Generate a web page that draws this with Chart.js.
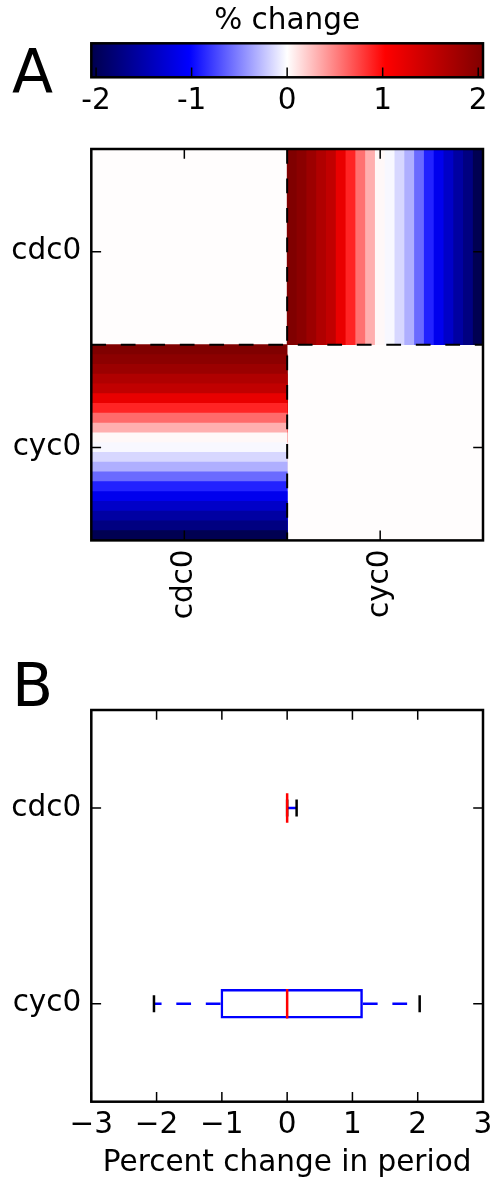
<!DOCTYPE html>
<html><head><meta charset="utf-8">
<script src="https://cdn.jsdelivr.net/npm/chart.js@4.4.1/dist/chart.umd.min.js"></script>
<style>
html,body{margin:0;padding:0;background:#fff;}
#wrap{position:relative;width:491px;height:1185px;background:#fff;overflow:hidden;}
canvas{position:absolute;left:0;}
.lbl{position:absolute;font-family:'DejaVu Sans';font-size:60px;line-height:60px;color:#000;}
</style></head><body>
<div id="wrap">
<canvas id="cb" width="491" height="130" style="top:0px"></canvas>
<canvas id="hm" width="491" height="510" style="top:130px"></canvas>
<canvas id="bx" width="491" height="535" style="top:650px"></canvas>
<div class="lbl" style="left:12px;top:41px">A</div>
<div class="lbl" style="left:12px;top:655px">B</div>
</div>
<script>
// ---------------- data ----------------
const heatCats = ['cdc0', 'cyc0'];
// tick positions (in block units)
const heatXTickPos = [0.475, 1.475];
const heatYTickPos = [0.525, 1.525];
const diagValues = [0.01, 0.01];
// row cdc0 x column cyc0, stripes left -> right
const stripesCdcCyc = [2.05, 1.96, 1.82, 1.66, 1.52, 1.20, 0.88, 0.57, 0.32, 0.03,
                       -0.03, -0.16, -0.32, -0.60, -0.89, -1.12, -1.34, -1.56, -1.75, -2.02];
// row cyc0 x column cdc0, stripes top -> bottom
const stripesCycCdc = [2.05, 1.95, 1.83, 1.66, 1.52, 1.20, 0.88, 0.60, 0.32, 0.03,
                       -0.03, -0.16, -0.32, -0.60, -0.89, -1.12, -1.34, -1.56, -1.75, -2.02];
const cbTicks = [-2, -1, 0, 1, 2];
const VMAX = 2.05;

const boxCats = ['cdc0', 'cyc0'];
const whisLo = [0.0, -2.04];
const q1 = [0.0, -1.02];
const med = [0.0, 0.0];
const q3 = [0.0, 1.16];
const whisHi = [0.145, 2.03];
const boxTicks = [-3, -2, -1, 0, 1, 2, 3];

// ---------------- styling helpers ----------------
const FS = 29.5;
Chart.defaults.font.family = 'DejaVu Sans';
Chart.defaults.font.size = FS;
Chart.defaults.color = '#000';

const SEISMIC = [[0, 0, 0.3], [0, 0, 1], [1, 1, 1], [1, 0, 0], [0.5, 0, 0]];
function rgb(c) { return 'rgb(' + c.map(x => Math.round(x * 255)).join(',') + ')'; }
function seismic(v) {
  const t = (Math.max(-VMAX, Math.min(VMAX, v)) + VMAX) / (2 * VMAX);
  const s = t * (SEISMIC.length - 1);
  const i = Math.min(SEISMIC.length - 2, Math.floor(s));
  const f = s - i;
  return rgb(SEISMIC[i].map((a, k) => a + (SEISMIC[i + 1][k] - a) * f));
}

const frameTicks = {
  id: 'frameTicks',
  afterDatasetsDraw(chart, args, o) {
    const {ctx, chartArea: a} = chart;
    const len = o.tickLength || 9.8;
    ctx.save();
    ctx.strokeStyle = '#000';
    ctx.lineWidth = o.tickWidth || 1.5;
    ctx.beginPath();
    (o.sides || []).forEach(side => {
      const horiz = side === 'top' || side === 'bottom';
      const sc = chart.scales[horiz ? 'x' : 'y'];
      sc.ticks.forEach(t => {
        const p = sc.getPixelForValue(t.value);
        if (side === 'bottom') { ctx.moveTo(p, a.bottom); ctx.lineTo(p, a.bottom - len); }
        if (side === 'top') { ctx.moveTo(p, a.top); ctx.lineTo(p, a.top + len); }
        if (side === 'left') { ctx.moveTo(a.left, p); ctx.lineTo(a.left + len, p); }
        if (side === 'right') { ctx.moveTo(a.right, p); ctx.lineTo(a.right - len, p); }
      });
    });
    ctx.stroke();
    ctx.lineWidth = o.frameWidth || 2.5;
    ctx.strokeRect(a.left, a.top, a.right - a.left, a.bottom - a.top);
    ctx.restore();
  }
};

const noGrid = {display: false, drawTicks: false};
const noBorder = {display: false};
const common = {responsive: false, animation: false, events: []};
function fixH(h) { return s => { s.height = h; s.paddingLeft = 0; s.paddingRight = 0; s.paddingTop = 0; s.paddingBottom = 0; }; }
function fixW(w) { return s => { s.width = w; s.paddingLeft = 0; s.paddingRight = 0; s.paddingTop = 0; s.paddingBottom = 0; }; }

// ---------------- colorbar ----------------
new Chart(document.getElementById('cb'), {
  type: 'bar',
  data: {
    labels: ['cb'],
    datasets: [{
      data: [[-VMAX, VMAX]],
      backgroundColor: (c) => {
        const a = c.chart.chartArea;
        if (!a) return '#fff';
        const g = c.chart.ctx.createLinearGradient(a.left, 0, a.right, 0);
        SEISMIC.forEach((col, k) => g.addColorStop(k / (SEISMIC.length - 1), rgb(col)));
        return g;
      },
      borderWidth: 0, barPercentage: 1, categoryPercentage: 1
    }]
  },
  options: {
    ...common,
    indexAxis: 'y',
    layout: {autoPadding: false, padding: {left: 91.3, right: 8, top: 0, bottom: 0}},
    plugins: {
      legend: {display: false}, tooltip: {enabled: false},
      title: {display: true, text: '% change', fullSize: false, color: '#000',
              font: {size: FS, weight: 'normal'}, padding: {top: 4, bottom: 3.9}},
      frameTicks: {sides: ['bottom']}
    },
    scales: {
      x: {type: 'linear', min: -VMAX, max: VMAX, offset: false,
          afterBuildTicks: s => { s.ticks = cbTicks.map(v => ({value: v})); },
          ticks: {callback: v => String(v), padding: 6, autoSkip: false, maxRotation: 0},
          grid: noGrid, border: noBorder, afterFit: fixH(130 - 77.3)},
      y: {type: 'category', display: false}
    }
  },
  plugins: [frameTicks]
});

// ---------------- heatmap ----------------
function barDs(axis, data, color, order) {
  return {type: 'bar', indexAxis: axis, data, backgroundColor: color, borderWidth: 0,
          grouped: false, barPercentage: 1, categoryPercentage: 1, order};
}
const hmDatasets = [];
heatCats.forEach((c, i) => hmDatasets.push(barDs('y', [{y: i + 0.5, x: [i, i + 1]}], seismic(diagValues[i]), 100)));
{
  const row = heatCats.indexOf('cdc0'), col = heatCats.indexOf('cyc0'), n = stripesCdcCyc.length;
  stripesCdcCyc.forEach((v, k) => hmDatasets.push(
    barDs('y', [{y: row + 0.5, x: [col + k / n, col + 1]}], seismic(v), 50 - k)));
}
{
  const row = heatCats.indexOf('cyc0'), col = heatCats.indexOf('cdc0'), n = stripesCycCdc.length;
  stripesCycCdc.forEach((v, k) => hmDatasets.push(Object.assign(
    barDs('x', [{x: col + 0.5, y: [row + k / n, row + 1]}], seismic(v), 50 - k),
    {xAxisID: 'xv', yAxisID: 'yv'})));
}
for (let k = 1; k < heatCats.length; k++) {
  hmDatasets.push({type: 'line', data: [{x: 0, y: k}, {x: heatCats.length, y: k}], borderColor: '#000',
                   borderWidth: 2, borderDash: [14.75, 14.75], pointRadius: 0, order: -100});
  hmDatasets.push({type: 'line', data: [{x: k, y: 0}, {x: k, y: heatCats.length}], borderColor: '#000',
                   borderWidth: 2, borderDash: [14.75, 14.75], pointRadius: 0, order: -100});
}
const centerTicks = s => { s.ticks = heatCats.map((c, i) => ({value: i + 0.5})); };
new Chart(document.getElementById('hm'), {
  type: 'bar',
  data: {datasets: hmDatasets},
  options: {
    ...common,
    layout: {autoPadding: false, padding: {left: 0, right: 8, top: 19, bottom: 0}},
    plugins: {legend: {display: false}, tooltip: {enabled: false},
              frameTicks: {sides: ['bottom', 'top', 'left', 'right']}},
    scales: {
      x: {type: 'linear', position: 'bottom', min: 0, max: heatCats.length, offset: false,
          afterBuildTicks: s => { s.ticks = heatXTickPos.map(v => ({value: v})); },
          ticks: {callback: (v, i) => heatCats[i], minRotation: 90, maxRotation: 90, autoSkip: false, padding: 9},
          grid: noGrid, border: noBorder, afterFit: fixH(510 - 410.4)},
      y: {type: 'linear', position: 'left', min: 0, max: heatCats.length, reverse: true, offset: false,
          afterBuildTicks: s => { s.ticks = heatYTickPos.map(v => ({value: v})); },
          ticks: {callback: (v, i) => heatCats[i], autoSkip: false, padding: 10},
          grid: noGrid, border: noBorder, afterFit: fixW(91.3)},
      xv: {type: 'linear', display: false, position: 'bottom', min: 0, max: heatCats.length, offset: false, afterBuildTicks: centerTicks},
      yv: {type: 'linear', display: false, position: 'left', min: 0, max: heatCats.length, reverse: true, offset: false, afterBuildTicks: centerTicks}
    }
  },
  plugins: [frameTicks]
});

// ---------------- boxplot ----------------
const BLUE = '#0000ff', RED = '#ff0000';
const bxDatasets = [];
boxCats.forEach((c, i) => {
  bxDatasets.push({type: 'line', data: [{x: q1[i], y: i + 1}, {x: whisLo[i], y: i + 1}], borderColor: BLUE,
                   borderWidth: 2.5, borderDash: [14.75, 14.75], pointRadius: 0, order: 5});
  bxDatasets.push({type: 'line', data: [{x: q3[i], y: i + 1}, {x: whisHi[i], y: i + 1}], borderColor: BLUE,
                   borderWidth: 2.5, borderDash: [14.75, 14.75], pointRadius: 0, order: 5});
});
bxDatasets.push({type: 'bar', indexAxis: 'y', data: boxCats.map((c, i) => ({y: i + 1, x: [q1[i], q3[i]]})),
                 backgroundColor: 'rgba(0,0,0,0)', borderColor: BLUE, borderWidth: 2.5, borderSkipped: false,
                 barPercentage: 0.15, categoryPercentage: 1, order: 4});
bxDatasets.push({type: 'scatter',
                 data: boxCats.map((c, i) => ({x: whisLo[i], y: i + 1})).concat(boxCats.map((c, i) => ({x: whisHi[i], y: i + 1}))),
                 pointStyle: 'line', pointRotation: 90, pointRadius: 8.5, pointBorderColor: '#000',
                 pointBorderWidth: 2.5, pointBackgroundColor: '#000', order: 3});
bxDatasets.push({type: 'scatter', data: boxCats.map((c, i) => ({x: med[i], y: i + 1})),
                 pointStyle: 'line', pointRotation: 90, pointRadius: 14.7, pointBorderColor: RED,
                 pointBorderWidth: 2.5, pointBackgroundColor: RED, order: 1});
new Chart(document.getElementById('bx'), {
  type: 'scatter',
  data: {datasets: bxDatasets},
  options: {
    ...common,
    layout: {autoPadding: false, padding: {left: 0, right: 8, top: 60, bottom: 0}},
    plugins: {legend: {display: false}, tooltip: {enabled: false},
              frameTicks: {sides: ['bottom', 'top', 'left', 'right']}},
    scales: {
      x: {type: 'linear', min: boxTicks[0], max: boxTicks[boxTicks.length - 1], offset: false,
          afterBuildTicks: s => { s.ticks = boxTicks.map(v => ({value: v})); },
          ticks: {callback: v => (v < 0 ? '\u2212' + Math.abs(v) : String(v)), padding: 6, autoSkip: false, maxRotation: 0},
          title: {display: true, text: 'Percent change in period', color: '#000', font: {size: FS}, padding: {top: 0, bottom: 4}},
          grid: noGrid, border: noBorder, afterFit: fixH(535 - 451.7)},
      y: {type: 'linear', min: 0.5, max: boxCats.length + 0.5, reverse: true, offset: false,
          afterBuildTicks: s => { s.ticks = boxCats.map((c, i) => ({value: i + 1})); },
          ticks: {callback: v => boxCats[Math.round(v) - 1], autoSkip: false, padding: 10},
          grid: noGrid, border: noBorder, afterFit: fixW(91.3)}
    }
  },
  plugins: [frameTicks]
});
</script>
</body></html>
